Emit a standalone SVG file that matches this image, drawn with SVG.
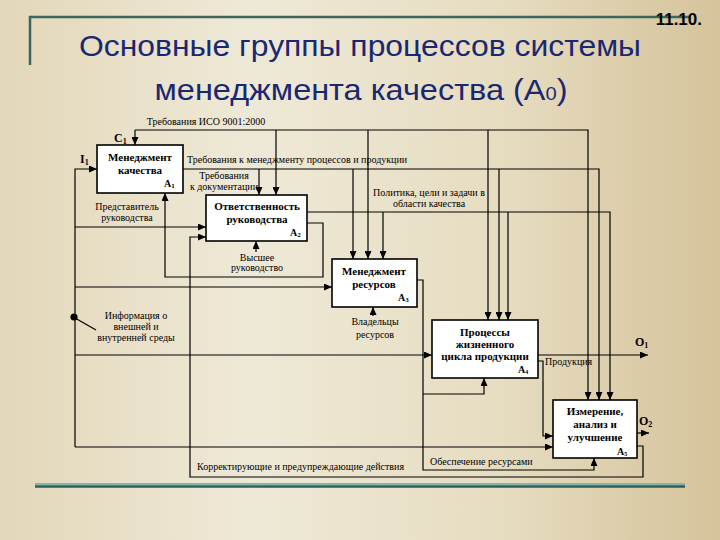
<svg xmlns="http://www.w3.org/2000/svg" width="720" height="540" viewBox="0 0 720 540">
<defs>
<linearGradient id="bg" x1="0" y1="0" x2="1" y2="0">
<stop offset="0" stop-color="#e3d7b9"/>
<stop offset="0.35" stop-color="#eee9d7"/>
<stop offset="0.7" stop-color="#e6dcc0"/>
<stop offset="1" stop-color="#d5c39b"/>
</linearGradient>
<marker id="ar" markerUnits="userSpaceOnUse" markerWidth="8" markerHeight="7" refX="8" refY="3.5" orient="auto">
<path d="M0,0 L8,3.5 L0,7 z" fill="#000"/>
</marker>
<style>
.t{font-family:"Liberation Sans",Arial,sans-serif;fill:#1a2872}
.box{fill:#fff;stroke:#000;stroke-width:1.6}
.bt{font-family:"Liberation Serif","Times New Roman",serif;font-weight:bold;font-size:11px;fill:#000;text-anchor:middle}
.id{font-family:"Liberation Serif","Times New Roman",serif;font-weight:bold;font-size:10px;fill:#000}
.lb{font-family:"Liberation Serif","Times New Roman",serif;font-size:10px;fill:#000}
.c{text-anchor:middle}
.io{font-family:"Liberation Serif","Times New Roman",serif;font-weight:bold;font-size:12px;fill:#000}
#conn path{fill:none;stroke:#000;stroke-width:1.2}
.a{marker-end:url(#ar)}
</style>
</defs>
<rect width="720" height="540" fill="url(#bg)"/>
<g id="frame">
<path d="M30,65 V17 H690" fill="none" stroke="#3d665c" stroke-width="2.5"/>
<line x1="35" y1="484" x2="685" y2="484" stroke="#7fb7ad" stroke-width="2"/>
<line x1="35" y1="486.5" x2="685" y2="486.5" stroke="#2f5e58" stroke-width="2.5"/>
</g>
<text x="702" y="25" text-anchor="end" font-family="'Liberation Sans',Arial,sans-serif" font-weight="bold" font-size="17" fill="#000">11.10.</text>
<text class="t" x="360" y="56" text-anchor="middle" font-size="29" textLength="562" lengthAdjust="spacingAndGlyphs">Основные группы процессов системы</text>
<text class="t" x="361" y="100" text-anchor="middle" font-size="29" textLength="413" lengthAdjust="spacingAndGlyphs">менеджмента качества (А<tspan font-size="18">0</tspan>)</text>

<g id="conn">
<path class="a" d="M135,130 V145"/>
<path class="a" d="M135,130 H588 V400"/>
<path class="a" d="M276,130 V195"/>
<path class="a" d="M368,130 V259"/>
<path class="a" d="M488,130 V320"/>
<path class="a" d="M183,169 H599 V400"/>
<path class="a" d="M259,169 V195"/>
<path class="a" d="M353,169 V259"/>
<path class="a" d="M499,169 V320"/>
<path class="a" d="M307,212 H610 V400"/>
<path class="a" d="M383,212 V259"/>
<path class="a" d="M508,212 V320"/>
<path class="a" d="M307,223 H323 V277 H165 V193"/>
<path class="a" d="M256,252 V241"/>
<path class="a" d="M75,447 V169 H97"/>
<path class="a" d="M75,227 H206"/>
<path class="a" d="M75,287 H332"/>
<path class="a" d="M75,355 H432"/>
<path class="a" d="M75,447 H553"/>
<path class="a" d="M373,316 V307"/>
<path class="a" d="M417,280 H423 V470 H594 V458"/>
<path class="a" d="M423,394 H484 V378"/>
<path class="a" d="M538,355 H648"/>
<path class="a" d="M538,361 H543 V436 H553"/>
<path class="a" d="M637,433 H649"/>
<path class="a" d="M637,446 H643 V477 H190 V237 H206"/>
<path d="M96,330 L75,318"/>
<circle cx="74" cy="317" r="3.6" fill="#000"/>
</g>

<g id="A1">
<rect class="box" x="97" y="145" width="86" height="48"/>
<text class="bt" x="140" y="161">Менеджмент</text>
<text class="bt" x="140" y="174">качества</text>
<text class="id" x="164" y="187">А<tspan font-size="7" dy="1">1</tspan></text>
</g>
<g id="A2">
<rect class="box" x="206" y="195" width="101" height="46"/>
<text class="bt" x="257" y="210">Ответственность</text>
<text class="bt" x="257" y="223">руководства</text>
<text class="id" x="290" y="236">А<tspan font-size="7" dy="1">2</tspan></text>
</g>
<g id="A3">
<rect class="box" x="332" y="259" width="85" height="48"/>
<text class="bt" x="374" y="275">Менеджмент</text>
<text class="bt" x="374" y="288">ресурсов</text>
<text class="id" x="398" y="301">А<tspan font-size="7" dy="1">3</tspan></text>
</g>
<g id="A4">
<rect class="box" x="432" y="320" width="106" height="58"/>
<text class="bt" x="485" y="336">Процессы</text>
<text class="bt" x="485" y="348">жизненного</text>
<text class="bt" x="485" y="360">цикла продукции</text>
<text class="id" x="518" y="373" font-size="8">А<tspan font-size="6" dy="1">4</tspan></text>
</g>
<g id="A5">
<rect class="box" x="553" y="400" width="84" height="58"/>
<text class="bt" x="595" y="415">Измерение,</text>
<text class="bt" x="595" y="428">анализ и</text>
<text class="bt" x="595" y="441">улучшение</text>
<text class="id" x="617" y="455" font-size="8">А<tspan font-size="6" dy="1">5</tspan></text>
</g>

<g id="labels">
<text class="lb c" x="206" y="125">Требования ИСО 9001:2000</text>
<text class="io" x="114" y="142">С<tspan font-size="8" dy="2">1</tspan></text>
<text class="io" x="80" y="163">I<tspan font-size="8" dy="2">1</tspan></text>
<text class="lb" x="187" y="163">Требования к менеджменту процессов и продукции</text>
<text class="lb c" x="224" y="179">Требования</text>
<text class="lb c" x="224" y="190">к документации</text>
<text class="lb c" x="127" y="210">Представитель</text>
<text class="lb c" x="127" y="221">руководства</text>
<text class="lb c" x="429" y="196">Политика, цели и задачи в</text>
<text class="lb c" x="429" y="207">области качества</text>
<text class="lb c" x="257" y="261">Высшее</text>
<text class="lb c" x="257" y="271">руководство</text>
<text class="lb c" x="136" y="319">Информация о</text>
<text class="lb c" x="136" y="330">внешней и</text>
<text class="lb c" x="136" y="341">внутренней среды</text>
<text class="lb c" x="375" y="325">Владельцы</text>
<text class="lb c" x="375" y="338">ресурсов</text>
<text class="lb" x="545" y="365">Продукция</text>
<text class="io" x="635" y="346">О<tspan font-size="8" dy="2">1</tspan></text>
<text class="io" x="639" y="425">О<tspan font-size="8" dy="2">2</tspan></text>
<text class="lb" x="197" y="470">Корректирующие и предупреждающие действия</text>
<text class="lb" x="430" y="465">Обеспечение ресурсами</text>
</g>
</svg>
